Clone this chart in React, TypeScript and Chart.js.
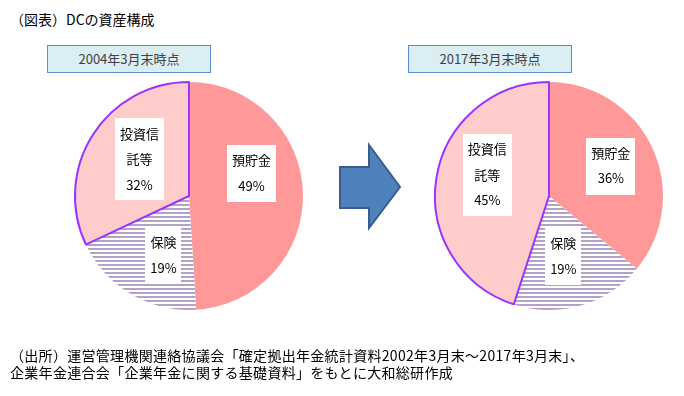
import React, { useEffect, useRef } from "react";
import { Chart, registerables } from "chart.js";

Chart.register(...registerables);

const CATEGORIES = ["預貯金", "保険", "投資信託等"];
const LABEL_LINES = [["預貯金"], ["保険"], ["投資信", "託等"]];
const VALUES_2004 = [49, 19, 32];
const VALUES_2017 = [36, 19, 45];
const PERIODS = ["2004年3月末時点", "2017年3月末時点"];
const HEADER = "（図表）DCの資産構成";
const SOURCE_LINES = [
  "（出所）運営管理機関連絡協議会「確定拠出年金統計資料2002年3月末～2017年3月末」、",
  "企業年金連合会「企業年金に関する基礎資料」をもとに大和総研作成",
];

const FONT = "'Noto Sans CJK JP', 'Noto Sans', sans-serif";
const LINE_GAP = 25.5;

function makeHatch(): CanvasPattern | string {
  const c = document.createElement("canvas");
  c.width = 4;
  c.height = 4;
  const g = c.getContext("2d");
  if (!g) return "#b3a2c7";
  g.fillStyle = "#ffffff";
  g.fillRect(0, 0, 4, 4);
  g.fillStyle = "#b3a2c7";
  g.fillRect(0, 0, 4, 2);
  const p = g.createPattern(c, "repeat");
  return p || "#b3a2c7";
}

const boxLabelPlugin = {
  id: "boxLabels",
  afterDatasetsDraw(chart: any, _args: any, opts: any) {
    const ctx = chart.ctx as CanvasRenderingContext2D;
    const meta = chart.getDatasetMeta(0);
    const data = chart.data.datasets[0].data as number[];
    meta.data.forEach((arc: any, i: number) => {
      const p = arc.getProps(["x", "y", "startAngle", "endAngle", "outerRadius"], true);
      const mid = (p.startAngle + p.endAngle) / 2;
      const r = p.outerRadius * (opts.radiusFraction ?? 0.56);
      const nudge = (opts.nudges && opts.nudges[i]) || [0, 0];
      const cx = p.x + Math.cos(mid) * r + nudge[0];
      const cy = p.y + Math.sin(mid) * r + nudge[1];
      const lines = [...LABEL_LINES[i], data[i] + "%"];
      ctx.save();
      ctx.font = "13px " + FONT;
      const w = Math.max(...lines.map((l) => ctx.measureText(l).width)) + 10;
      const h = (lines.length - 1) * LINE_GAP + 31;
      ctx.fillStyle = "#ffffff";
      ctx.fillRect(Math.round(cx - w / 2), Math.round(cy - h / 2), Math.round(w), Math.round(h));
      ctx.fillStyle = "#000000";
      ctx.textAlign = "center";
      ctx.textBaseline = "middle";
      lines.forEach((l, k) => {
        ctx.fillText(l, cx, cy - ((lines.length - 1) * LINE_GAP) / 2 + k * LINE_GAP);
      });
      ctx.restore();
    });
  },
};

function PieChart({ values, nudges }: { values: number[]; nudges: number[][] }) {
  const ref = useRef<HTMLCanvasElement | null>(null);
  useEffect(() => {
    if (!ref.current) return;
    const hatch = makeHatch();
    const chart = new Chart(ref.current, {
      type: "pie",
      data: {
        labels: CATEGORIES,
        datasets: [
          {
            data: values,
            backgroundColor: ["#ff9999", hatch as any, "#ffcccc"],
            borderColor: ["#ff9999", "#ffffff", "#9933ff"],
            borderWidth: [0, 0, 2],
            hoverOffset: 0,
            offset: 0,
          },
        ],
      },
      options: {
        responsive: false,
        maintainAspectRatio: false,
        animation: false,
        radius: 114,
        layout: { padding: 0 },
        events: [],
        plugins: {
          legend: { display: false },
          tooltip: { enabled: false },
          boxLabels: { radiusFraction: 0.561, nudges },
        } as any,
      } as any,
      plugins: [boxLabelPlugin],
    });
    return () => chart.destroy();
  }, [values, nudges]);
  return <canvas ref={ref} width={240} height={240} style={{ width: 240, height: 240, display: "block" }} />;
}

const NUDGES_2004 = [
  [-1.5, -21],
  [7, 4],
  [4.5, -2.5],
];
const NUDGES_2017 = [
  [4, -3],
  [-3.5, -1.5],
  [1.5, -11],
];

const periodBox = (left: number, text: string) => (
  <div
    style={{
      position: "absolute",
      left,
      top: 45,
      width: 164,
      height: 28,
      boxSizing: "border-box",
      border: "1.5px solid #5b8bd0",
      background: "#dbeef3",
      color: "#404040",
      font: "13px " + FONT,
      lineHeight: "25px",
      textAlign: "center",
    }}
  >
    {text}
  </div>
);

export default function App() {
  return (
    <div
      style={{
        position: "fixed",
        left: 0,
        top: 0,
        width: 684,
        height: 396,
        background: "#ffffff",
        overflow: "hidden",
        fontFamily: FONT,
      }}
    >
      <div style={{ position: "absolute", left: 10, top: 8, font: "14px " + FONT, lineHeight: "22px", color: "#000" }}>
        {HEADER}
      </div>
      {periodBox(47, PERIODS[0])}
      {periodBox(408, PERIODS[1])}
      <div style={{ position: "absolute", left: 69, top: 76 }}>
        <PieChart values={VALUES_2004} nudges={NUDGES_2004} />
      </div>
      <div style={{ position: "absolute", left: 429, top: 76 }}>
        <PieChart values={VALUES_2017} nudges={NUDGES_2017} />
      </div>
      <svg style={{ position: "absolute", left: 0, top: 0 }} width={684} height={396}>
        <polygon
          points="340,167 369,167 369,145 400,187 369,228 369,208 340,208"
          fill="#4f81bd"
          stroke="#385d8a"
          strokeWidth={2}
        />
      </svg>
      <div
        style={{
          position: "absolute",
          left: 10,
          top: 347,
          font: "14px " + FONT,
          lineHeight: "17px",
          letterSpacing: "0.3px",
          color: "#000",
          whiteSpace: "nowrap",
        }}
      >
        <div>{SOURCE_LINES[0]}</div>
        <div>{SOURCE_LINES[1]}</div>
      </div>
    </div>
  );
}
